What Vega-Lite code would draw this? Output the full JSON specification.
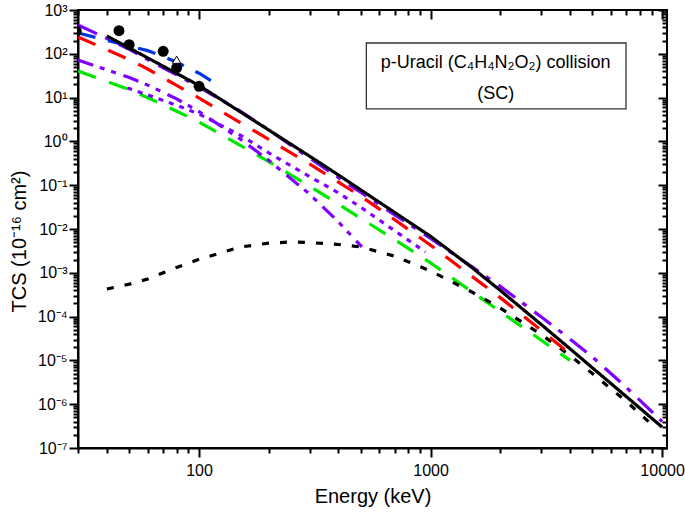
{
  "$schema": "https://vega.github.io/schema/vega-lite/v6.json",
  "description": "Total cross sections for p-Uracil collision (SC), log-log",
  "width": 589,
  "height": 438,
  "autosize": {"type": "none"},
  "padding": {"left": 78, "top": 10, "right": 18, "bottom": 66},
  "config": {
    "font": "Liberation Sans",
    "view": {"stroke": "black", "strokeWidth": 2}
  },
  "datasets": {
    "curves": [
      {"s": "dash green", "E": 30, "TCS": 40.5},
      {"s": "dash green", "E": 40, "TCS": 23.5},
      {"s": "dash green", "E": 50, "TCS": 15.1},
      {"s": "dash green", "E": 60, "TCS": 9.95},
      {"s": "dash green", "E": 70, "TCS": 6.82},
      {"s": "dash green", "E": 80, "TCS": 4.88},
      {"s": "dash green", "E": 100, "TCS": 2.77},
      {"s": "dash green", "E": 150, "TCS": 0.822},
      {"s": "dash green", "E": 200, "TCS": 0.347},
      {"s": "dash green", "E": 300, "TCS": 0.096},
      {"s": "dash green", "E": 400, "TCS": 0.0367},
      {"s": "dash green", "E": 500, "TCS": 0.0175},
      {"s": "dash green", "E": 700, "TCS": 0.00569},
      {"s": "dash green", "E": 1000, "TCS": 0.00169},
      {"s": "dash green", "E": 1500, "TCS": 0.000379},
      {"s": "dash green", "E": 2000, "TCS": 0.00013},
      {"s": "dash green", "E": 3000, "TCS": 2.92e-5},
      {"s": "dash green", "E": 4000, "TCS": 1.0e-5},

      {"s": "dot black", "E": 40, "TCS": 4.27e-4},
      {"s": "dot black", "E": 50, "TCS": 5.5e-4},
      {"s": "dot black", "E": 60, "TCS": 7.2e-4},
      {"s": "dot black", "E": 70, "TCS": 1.0e-3},
      {"s": "dot black", "E": 80, "TCS": 1.33e-3},
      {"s": "dot black", "E": 100, "TCS": 2.03e-3},
      {"s": "dot black", "E": 150, "TCS": 3.85e-3},
      {"s": "dot black", "E": 200, "TCS": 4.77e-3},
      {"s": "dot black", "E": 250, "TCS": 5.05e-3},
      {"s": "dot black", "E": 300, "TCS": 4.9e-3},
      {"s": "dot black", "E": 400, "TCS": 4.43e-3},
      {"s": "dot black", "E": 500, "TCS": 3.89e-3},
      {"s": "dot black", "E": 700, "TCS": 2.4e-3},
      {"s": "dot black", "E": 1000, "TCS": 1.1e-3},
      {"s": "dot black", "E": 1500, "TCS": 3.7e-4},
      {"s": "dot black", "E": 2000, "TCS": 1.57e-4},
      {"s": "dot black", "E": 3000, "TCS": 3.93e-5},
      {"s": "dot black", "E": 4000, "TCS": 1.29e-5},
      {"s": "dot black", "E": 5000, "TCS": 5.0e-6},
      {"s": "dot black", "E": 7000, "TCS": 1.17e-6},
      {"s": "dot black", "E": 9000, "TCS": 3.47e-7},

      {"s": "dot violet", "E": 49, "TCS": 16.6},
      {"s": "dot violet", "E": 60, "TCS": 11.5},
      {"s": "dot violet", "E": 70, "TCS": 8.6},
      {"s": "dot violet", "E": 80, "TCS": 6.7},
      {"s": "dot violet", "E": 100, "TCS": 4.2},
      {"s": "dot violet", "E": 150, "TCS": 1.41},
      {"s": "dot violet", "E": 200, "TCS": 0.548},
      {"s": "dot violet", "E": 300, "TCS": 0.158},
      {"s": "dot violet", "E": 400, "TCS": 0.0668},
      {"s": "dot violet", "E": 500, "TCS": 0.0313},
      {"s": "dot violet", "E": 700, "TCS": 0.0091},
      {"s": "dot violet", "E": 950, "TCS": 0.00299},

      {"s": "dash-dot-dot violet", "E": 30, "TCS": 72.1},
      {"s": "dash-dot-dot violet", "E": 40, "TCS": 43},
      {"s": "dash-dot-dot violet", "E": 50, "TCS": 28.7},
      {"s": "dash-dot-dot violet", "E": 60, "TCS": 19.3},
      {"s": "dash-dot-dot violet", "E": 70, "TCS": 13.1},
      {"s": "dash-dot-dot violet", "E": 80, "TCS": 9.35},
      {"s": "dash-dot-dot violet", "E": 100, "TCS": 4.8},
      {"s": "dash-dot-dot violet", "E": 150, "TCS": 1.15},
      {"s": "dash-dot-dot violet", "E": 200, "TCS": 0.369},
      {"s": "dash-dot-dot violet", "E": 300, "TCS": 0.063},
      {"s": "dash-dot-dot violet", "E": 400, "TCS": 0.0145},
      {"s": "dash-dot-dot violet", "E": 505, "TCS": 0.0039},

      {"s": "dash red", "E": 30, "TCS": 242},
      {"s": "dash red", "E": 40, "TCS": 124},
      {"s": "dash red", "E": 50, "TCS": 73.6},
      {"s": "dash red", "E": 60, "TCS": 44.9},
      {"s": "dash red", "E": 70, "TCS": 28.3},
      {"s": "dash red", "E": 80, "TCS": 19.0},
      {"s": "dash red", "E": 100, "TCS": 9.77},
      {"s": "dash red", "E": 150, "TCS": 2.73},
      {"s": "dash red", "E": 200, "TCS": 1.11},
      {"s": "dash red", "E": 300, "TCS": 0.305},
      {"s": "dash red", "E": 400, "TCS": 0.117},
      {"s": "dash red", "E": 500, "TCS": 0.0558},
      {"s": "dash red", "E": 700, "TCS": 0.0163},
      {"s": "dash red", "E": 1000, "TCS": 0.00427},
      {"s": "dash red", "E": 1500, "TCS": 0.00085},
      {"s": "dash red", "E": 2000, "TCS": 0.000271},
      {"s": "dash red", "E": 3000, "TCS": 4.9e-5},
      {"s": "dash red", "E": 4000, "TCS": 1.42e-5},

      {"s": "dash-dot violet", "E": 30, "TCS": 455},
      {"s": "dash-dot violet", "E": 40, "TCS": 224},
      {"s": "dash-dot violet", "E": 50, "TCS": 126},
      {"s": "dash-dot violet", "E": 60, "TCS": 74},
      {"s": "dash-dot violet", "E": 70, "TCS": 48},
      {"s": "dash-dot violet", "E": 80, "TCS": 33},
      {"s": "dash-dot violet", "E": 100, "TCS": 17.4},
      {"s": "dash-dot violet", "E": 150, "TCS": 5.0},
      {"s": "dash-dot violet", "E": 200, "TCS": 1.83},
      {"s": "dash-dot violet", "E": 300, "TCS": 0.415},
      {"s": "dash-dot violet", "E": 400, "TCS": 0.149},
      {"s": "dash-dot violet", "E": 500, "TCS": 0.068},
      {"s": "dash-dot violet", "E": 700, "TCS": 0.0211},
      {"s": "dash-dot violet", "E": 1000, "TCS": 0.00607},
      {"s": "dash-dot violet", "E": 1500, "TCS": 0.0014},
      {"s": "dash-dot violet", "E": 2000, "TCS": 0.00049},
      {"s": "dash-dot violet", "E": 3000, "TCS": 9.9e-5},
      {"s": "dash-dot violet", "E": 4000, "TCS": 3.08e-5},
      {"s": "dash-dot violet", "E": 5000, "TCS": 1.2e-5},
      {"s": "dash-dot violet", "E": 7000, "TCS": 2.43e-6},
      {"s": "dash-dot violet", "E": 10000, "TCS": 4.0e-7},

      {"s": "dash blue", "E": 30, "TCS": 299},
      {"s": "dash blue", "E": 40, "TCS": 203},
      {"s": "dash blue", "E": 50, "TCS": 151},
      {"s": "dash blue", "E": 60, "TCS": 118},
      {"s": "dash blue", "E": 70, "TCS": 86.9},
      {"s": "dash blue", "E": 80, "TCS": 64.1},
      {"s": "dash blue", "E": 100, "TCS": 36},
      {"s": "dash blue", "E": 115, "TCS": 22.7},

      {"s": "solid black", "E": 40, "TCS": 255},
      {"s": "solid black", "E": 50, "TCS": 135},
      {"s": "solid black", "E": 60, "TCS": 80.5},
      {"s": "solid black", "E": 70, "TCS": 52},
      {"s": "solid black", "E": 80, "TCS": 35.6},
      {"s": "solid black", "E": 100, "TCS": 18.9},
      {"s": "solid black", "E": 150, "TCS": 4.8},
      {"s": "solid black", "E": 200, "TCS": 1.82},
      {"s": "solid black", "E": 300, "TCS": 0.461},
      {"s": "solid black", "E": 400, "TCS": 0.171},
      {"s": "solid black", "E": 500, "TCS": 0.0778},
      {"s": "solid black", "E": 700, "TCS": 0.0238},
      {"s": "solid black", "E": 1000, "TCS": 0.0068},
      {"s": "solid black", "E": 1500, "TCS": 0.00135},
      {"s": "solid black", "E": 2000, "TCS": 0.000395},
      {"s": "solid black", "E": 3000, "TCS": 6.65e-5},
      {"s": "solid black", "E": 4000, "TCS": 1.85e-5},
      {"s": "solid black", "E": 5000, "TCS": 6.76e-6},
      {"s": "solid black", "E": 7000, "TCS": 1.5e-6},
      {"s": "solid black", "E": 10000, "TCS": 3.0e-7}
    ],
    "experiment": [
      {"set": "circle", "E": 29.5, "TCS": 330},
      {"set": "circle", "E": 45.1, "TCS": 336},
      {"set": "circle", "E": 49.9, "TCS": 161},
      {"set": "circle", "E": 70, "TCS": 114},
      {"set": "circle", "E": 80, "TCS": 47.5},
      {"set": "circle", "E": 100, "TCS": 18.1},
      {"set": "triangle", "E": 80, "TCS": 73.3}
    ]
  },
  "layer": [
    {
      "data": {"name": "curves"},
      "mark": {"type": "line", "strokeWidth": 3.2, "clip": true},
      "encoding": {
        "x": {
          "field": "E",
          "type": "quantitative",
          "scale": {"type": "log", "domain": [30, 10500], "nice": false},
          "axis": {
            "orient": "bottom",
            "grid": false,
            "domainColor": "black",
            "domainWidth": 2,
            "title": "Energy (keV)",
            "titleFont": "Liberation Sans",
            "titleFontSize": 20,
            "titleFontWeight": "normal",
            "titleColor": "black",
            "titlePadding": 8,
            "tickSize": 9,
            "tickWidth": 2,
            "tickColor": "black",
            "labelFont": "Liberation Sans",
            "labelFontSize": 16,
            "labelColor": "black",
            "labelFlush": false,
            "labelOverlap": false,
            "labelPadding": 5,
            "values": [100, 1000, 10000],
            "format": "d"
          }
        },
        "y": {
          "field": "TCS",
          "type": "quantitative",
          "scale": {"type": "log", "domain": [1e-7, 1000], "nice": false},
          "axis": {
            "orient": "left",
            "grid": false,
            "domainColor": "black",
            "domainWidth": 2,
            "title": "TCS (10⁻¹⁶ cm²)",
            "titleFont": "Liberation Sans",
            "titleFontSize": 20,
            "titleFontWeight": "normal",
            "titleColor": "black",
            "titlePadding": 8,
            "titleY": 231,
            "tickSize": 9,
            "tickWidth": 2,
            "tickColor": "black",
            "labelFont": "Liberation Sans",
            "labelFontSize": 16,
            "labelColor": "black",
            "labelFlush": false,
            "labelOverlap": false,
            "labelPadding": 2,
            "values": [1e-7, 1e-6, 1e-5, 1e-4, 0.001, 0.01, 0.1, 1, 10, 100, 1000],
            "labelExpr": "'10' + ['⁻⁷','⁻⁶','⁻⁵','⁻⁴','⁻³','⁻²','⁻¹','⁰','¹','²','³'][round(log(datum.value)/LN10) + 7]"
          }
        },
        "color": {
          "field": "s",
          "type": "nominal",
          "legend": null,
          "scale": {
            "domain": ["dash green", "dot black", "dot violet", "dash-dot-dot violet", "dash red", "dash-dot violet", "dash blue", "solid black"],
            "range": ["#00e600", "#000000", "#7f00ff", "#7f00ff", "#ff0000", "#7f00ff", "#0033dd", "#000000"]
          }
        },
        "strokeDash": {
          "field": "s",
          "type": "nominal",
          "legend": null,
          "scale": {
            "domain": ["dash green", "dot black", "dot violet", "dash-dot-dot violet", "dash red", "dash-dot violet", "dash blue", "solid black"],
            "range": [[19, 14], [7, 11], [5, 6], [16, 7, 5, 7, 5, 8], [19, 14], [21, 9, 5, 10], [18, 13], [1, 0]]
          }
        }
      }
    },
    {
      "data": {"name": "experiment"},
      "transform": [{"filter": "datum.set == 'circle'"}],
      "mark": {"type": "point", "shape": "circle", "filled": true, "color": "black", "size": 120, "opacity": 1, "clip": true},
      "encoding": {
        "x": {
          "field": "E",
          "type": "quantitative",
          "axis": {
            "orient": "bottom",
            "grid": false,
            "title": null,
            "labels": false,
            "domain": false,
            "tickSize": 5,
            "tickWidth": 2,
            "tickColor": "black",
            "values": [30, 40, 50, 60, 70, 80, 90, 200, 300, 400, 500, 600, 700, 800, 900, 2000, 3000, 4000, 5000, 6000, 7000, 8000, 9000]
          }
        },
        "y": {
          "field": "TCS",
          "type": "quantitative",
          "axis": {
            "orient": "left",
            "grid": false,
            "title": null,
            "labels": false,
            "domain": false,
            "tickSize": 5,
            "tickWidth": 2,
            "tickColor": "black",
            "values": [2e-7, 3e-7, 4e-7, 5e-7, 6e-7, 7e-7, 8e-7, 9e-7,
                       2e-6, 3e-6, 4e-6, 5e-6, 6e-6, 7e-6, 8e-6, 9e-6,
                       2e-5, 3e-5, 4e-5, 5e-5, 6e-5, 7e-5, 8e-5, 9e-5,
                       2e-4, 3e-4, 4e-4, 5e-4, 6e-4, 7e-4, 8e-4, 9e-4,
                       0.002, 0.003, 0.004, 0.005, 0.006, 0.007, 0.008, 0.009,
                       0.02, 0.03, 0.04, 0.05, 0.06, 0.07, 0.08, 0.09,
                       0.2, 0.3, 0.4, 0.5, 0.6, 0.7, 0.8, 0.9,
                       2, 3, 4, 5, 6, 7, 8, 9,
                       20, 30, 40, 50, 60, 70, 80, 90,
                       200, 300, 400, 500, 600, 700, 800, 900]
          }
        }
      }
    },
    {
      "data": {"name": "experiment"},
      "transform": [{"filter": "datum.set == 'triangle'"}],
      "mark": {"type": "point", "shape": "triangle-up", "filled": true, "fill": "white", "stroke": "black", "strokeWidth": 1, "size": 70, "opacity": 1},
      "encoding": {
        "x": {
          "field": "E",
          "type": "quantitative",
          "axis": {
            "orient": "top",
            "grid": false,
            "offset": -9,
            "title": null,
            "labels": false,
            "domain": false,
            "tickSize": 9,
            "tickWidth": 2,
            "tickColor": "black",
            "values": [100, 1000, 10000]
          }
        },
        "y": {
          "field": "TCS",
          "type": "quantitative",
          "axis": {
            "orient": "right",
            "grid": false,
            "offset": -9,
            "title": null,
            "labels": false,
            "domain": false,
            "tickSize": 9,
            "tickWidth": 2,
            "tickColor": "black",
            "values": [1e-7, 1e-6, 1e-5, 1e-4, 0.001, 0.01, 0.1, 1, 10, 100, 1000]
          }
        }
      }
    },
    {
      "data": {"values": [{"label": "box"}]},
      "mark": {"type": "rect", "fill": null, "stroke": "#333333", "strokeWidth": 1.3},
      "encoding": {
        "x": {
          "datum": 528,
          "type": "quantitative",
          "axis": {
            "orient": "top",
            "grid": false,
            "offset": -5,
            "title": null,
            "labels": false,
            "domain": false,
            "tickSize": 5,
            "tickWidth": 2,
            "tickColor": "black",
            "values": [30, 40, 50, 60, 70, 80, 90, 200, 300, 400, 500, 600, 700, 800, 900, 2000, 3000, 4000, 5000, 6000, 7000, 8000, 9000]
          }
        },
        "x2": {"datum": 6985},
        "y": {
          "datum": 176.6,
          "type": "quantitative",
          "axis": {
            "orient": "right",
            "grid": false,
            "offset": -5,
            "title": null,
            "labels": false,
            "domain": false,
            "tickSize": 5,
            "tickWidth": 2,
            "tickColor": "black",
            "values": [2e-7, 3e-7, 4e-7, 5e-7, 6e-7, 7e-7, 8e-7, 9e-7,
                       2e-6, 3e-6, 4e-6, 5e-6, 6e-6, 7e-6, 8e-6, 9e-6,
                       2e-5, 3e-5, 4e-5, 5e-5, 6e-5, 7e-5, 8e-5, 9e-5,
                       2e-4, 3e-4, 4e-4, 5e-4, 6e-4, 7e-4, 8e-4, 9e-4,
                       0.002, 0.003, 0.004, 0.005, 0.006, 0.007, 0.008, 0.009,
                       0.02, 0.03, 0.04, 0.05, 0.06, 0.07, 0.08, 0.09,
                       0.2, 0.3, 0.4, 0.5, 0.6, 0.7, 0.8, 0.9,
                       2, 3, 4, 5, 6, 7, 8, 9,
                       20, 30, 40, 50, 60, 70, 80, 90,
                       200, 300, 400, 500, 600, 700, 800, 900]
          }
        },
        "y2": {"datum": 5.5}
      }
    },
    {
      "data": {"values": [{"label": "title"}]},
      "mark": {"type": "text", "text": ["p-Uracil (C₄H₄N₂O₂) collision", "(SC)"], "font": "Liberation Sans", "fontSize": 18, "lineHeight": 31, "align": "center", "baseline": "middle", "color": "black"},
      "encoding": {
        "x": {"datum": 1910, "type": "quantitative", "axis": null},
        "y": {"datum": 61.7, "type": "quantitative", "axis": null}
      }
    }
  ],
  "resolve": {"axis": {"x": "independent", "y": "independent"}}
}
